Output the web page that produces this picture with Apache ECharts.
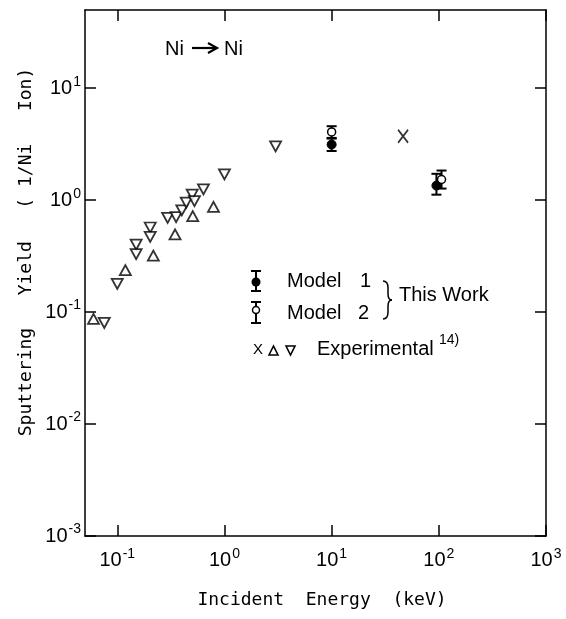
<!DOCTYPE html>
<html>
<head>
<meta charset="utf-8">
<script src="https://cdn.jsdelivr.net/npm/echarts@6/dist/echarts.min.js"></script>
<style>html,body{margin:0;padding:0;background:#fff}#c{width:566px;height:619px}</style>
</head>
<body>
<div id="c"></div>
<script>
// ---- data ----
const xTicks = [0.1, 1, 10, 100, 1000];
const yTicks = [0.001, 0.01, 0.1, 1, 10];
// Experimental (14): up triangles
const upTriX = [0.060, 0.119, 0.217, 0.346, 0.506, 0.79];
const upTriY = [0.087, 0.237, 0.32, 0.494, 0.72, 0.87];
// Experimental (14): down triangles
const downTriX = [0.0756, 0.100, 0.150, 0.150, 0.203, 0.203, 0.295, 0.354, 0.40, 0.44, 0.50, 0.525, 0.637, 1.0, 3.0];
const downTriY = [0.080, 0.179, 0.40, 0.33, 0.57, 0.47, 0.695, 0.705, 0.81, 0.95, 1.12, 0.98, 1.25, 1.70, 3.03];
// Experimental (14): cross
const crossX = [46.4];
const crossY = [3.73];
// Model 1 (filled circle) with error bars
const model1X = [10, 95];
const model1Y = [3.14, 1.35];
const model1Lo = [2.75, 1.12];
const model1Hi = [3.55, 1.72];
// Model 2 (open circle) with error bars
const model2X = [10, 106];
const model2Y = [4.07, 1.53];
const model2Lo = [3.6, 1.27];
const model2Hi = [4.58, 1.84];

const zip = (a, b) => a.map((v, i) => [v, b[i]]);
const zip4 = (a, b, c, d) => a.map((v, i) => [v, b[i], c[i], d[i]]);

function errRender(filled) {
  return function (params, api) {
    const p = api.coord([api.value(0), api.value(1)]);
    const lo = api.coord([api.value(0), api.value(2)]);
    const hi = api.coord([api.value(0), api.value(3)]);
    const cap = 5;
    const st = { stroke: '#000', lineWidth: 2 };
    return {
      type: 'group',
      children: [
        { type: 'line', shape: { x1: p[0], y1: hi[1], x2: p[0], y2: lo[1] }, style: st },
        { type: 'line', shape: { x1: p[0] - cap, y1: hi[1], x2: p[0] + cap, y2: hi[1] }, style: st },
        { type: 'line', shape: { x1: p[0] - cap, y1: lo[1], x2: p[0] + cap, y2: lo[1] }, style: st },
        { type: 'circle', shape: { cx: p[0], cy: p[1], r: filled ? 4.5 : 4 },
          style: filled ? { fill: '#000', stroke: '#000', lineWidth: 1 } : { fill: '#fff', stroke: '#000', lineWidth: 1.5 } }
      ]
    };
  };
}

const labelFmt = v => {
  const e = Math.round(Math.log10(v));
  return '{b|10}{e|' + e + '}';
};
const rich = {
  b: { fontSize: 20, fontFamily: 'Liberation Sans', color: '#000', lineHeight: 24 },
  e: { fontSize: 14, fontFamily: 'Liberation Sans', color: '#000', padding: [0, 0, 13, 1] }
};

const axisCommon = {
  type: 'log', logBase: 10,
  axisLine: { show: true, lineStyle: { color: '#000', width: 1.5 } },
  splitLine: { show: false },
  minorTick: { show: false }
};

const bline = (a) => ({ type: 'line', shape: { x1: a[0], y1: a[1], x2: a[2], y2: a[3] }, style: { stroke: '#000', lineWidth: 1.5 } });
const bcurve = (a) => ({ type: 'bezierCurve', shape: { x1: a[0], y1: a[1], cpx1: a[2], cpy1: a[3], x2: a[4], y2: a[5] }, style: { stroke: '#000', lineWidth: 1.5, fill: null } });

const chart = echarts.init(document.getElementById('c'));
const option = {
  backgroundColor: '#fff',
  animation: false,
  grid: { left: 85, right: 20, top: 10, bottom: 83 },
  xAxis: [
    Object.assign({}, axisCommon, {
      min: 0.05, max: 1000, position: 'bottom',
      axisTick: { show: true, inside: true, length: 11, lineStyle: { color: '#000', width: 1.5 }, customValues: xTicks },
      axisLabel: { show: true, customValues: xTicks, formatter: labelFmt, rich: rich, margin: 11 }
    }),
    Object.assign({}, axisCommon, {
      min: 0.05, max: 1000, position: 'top',
      axisTick: { show: true, inside: true, length: 11, lineStyle: { color: '#000', width: 1.5 }, customValues: xTicks },
      axisLabel: { show: false }
    })
  ],
  yAxis: [
    Object.assign({}, axisCommon, {
      min: 0.001, max: 50, position: 'left',
      axisTick: { show: true, inside: true, length: 11, lineStyle: { color: '#000', width: 1.5 }, customValues: yTicks },
      axisLabel: { show: true, customValues: yTicks, formatter: labelFmt, rich: rich, margin: 4 }
    }),
    Object.assign({}, axisCommon, {
      min: 0.001, max: 50, position: 'right',
      axisTick: { show: true, inside: true, length: 11, lineStyle: { color: '#000', width: 1.5 }, customValues: yTicks },
      axisLabel: { show: false }
    })
  ],
  series: [
    { name: 'Experimental up', type: 'scatter', data: zip(upTriX, upTriY), symbol: 'triangle', symbolSize: [11, 10],
      itemStyle: { color: '#fff', borderColor: '#000', borderWidth: 1.8 } },
    { name: 'Experimental down', type: 'scatter', data: zip(downTriX, downTriY), symbol: 'triangle', symbolRotate: 180, symbolSize: [11, 10],
      itemStyle: { color: '#fff', borderColor: '#000', borderWidth: 1.8 } },
    { name: 'Experimental X', type: 'scatter', data: zip(crossX, crossY), symbol: 'path://M0,0L10,14M10,0L0,14', symbolSize: [10, 13],
      itemStyle: { color: 'none', borderColor: '#000', borderWidth: 1.8 } },
    { name: 'Model 2', type: 'custom', renderItem: errRender(false), data: zip4(model2X, model2Y, model2Lo, model2Hi), z: 3 },
    { name: 'Model 1', type: 'custom', renderItem: errRender(true), data: zip4(model1X, model1Y, model1Lo, model1Hi), z: 4 }
  ],
  graphic: [
    { type: 'text', x: 165, y: 49, style: { text: 'Ni', font: '20px "Liberation Sans"', fill: '#000', verticalAlign: 'middle' } },
    { type: 'line', shape: { x1: 192, y1: 48, x2: 216, y2: 48 }, style: { stroke: '#000', lineWidth: 2.2 } },
    { type: 'polyline', shape: { points: [[208, 43], [217, 48], [208, 53]] }, style: { stroke: '#000', lineWidth: 2.2, fill: null } },
    { type: 'text', x: 224, y: 49, style: { text: 'Ni', font: '20px "Liberation Sans"', fill: '#000', verticalAlign: 'middle' } },
    // legend symbols
    { type: 'line', shape: { x1: 256, y1: 271, x2: 256, y2: 291 }, style: { stroke: '#000', lineWidth: 2 } },
    { type: 'line', shape: { x1: 251, y1: 271, x2: 261, y2: 271 }, style: { stroke: '#000', lineWidth: 2 } },
    { type: 'line', shape: { x1: 251, y1: 291, x2: 261, y2: 291 }, style: { stroke: '#000', lineWidth: 2 } },
    { type: 'circle', shape: { cx: 256, cy: 282, r: 4.5 }, style: { fill: '#000' } },
    { type: 'line', shape: { x1: 256, y1: 302, x2: 256, y2: 323 }, style: { stroke: '#000', lineWidth: 2 } },
    { type: 'line', shape: { x1: 251, y1: 302, x2: 261, y2: 302 }, style: { stroke: '#000', lineWidth: 2 } },
    { type: 'line', shape: { x1: 251, y1: 323, x2: 261, y2: 323 }, style: { stroke: '#000', lineWidth: 2 } },
    { type: 'circle', shape: { cx: 256, cy: 310, r: 3.5 }, style: { fill: '#fff', stroke: '#000', lineWidth: 1.5 } },
    // legend texts
    { type: 'text', x: 287, y: 281, style: { text: 'Model', font: '20px "Liberation Sans"', fill: '#000', verticalAlign: 'middle' } },
    { type: 'text', x: 360, y: 281, style: { text: '1', font: '20px "Liberation Sans"', fill: '#000', verticalAlign: 'middle' } },
    { type: 'text', x: 287, y: 313, style: { text: 'Model', font: '20px "Liberation Sans"', fill: '#000', verticalAlign: 'middle' } },
    { type: 'text', x: 358, y: 313, style: { text: '2', font: '20px "Liberation Sans"', fill: '#000', verticalAlign: 'middle' } },
    // brace
    bcurve([383, 281, 388, 281, 388, 288]),
    bline([388, 288, 388, 294]),
    bcurve([388, 294, 388, 300, 392, 300]),
    bcurve([392, 300, 388, 300, 388, 306]),
    bline([388, 306, 388, 312]),
    bcurve([388, 312, 388, 319, 383, 319]),
    { type: 'text', x: 399, y: 295, style: { text: 'This Work', font: '20px "Liberation Sans"', fill: '#000', verticalAlign: 'middle' } },
    { type: 'text', x: 258, y: 350, style: { text: 'X', font: '15px "Liberation Sans"', fill: '#000', align: 'center', verticalAlign: 'middle' } },
    { type: 'polygon', shape: { points: [[269, 355], [273.5, 346], [278, 355]] }, style: { fill: null, stroke: '#000', lineWidth: 1.6 } },
    { type: 'polygon', shape: { points: [[286, 346], [290.5, 355], [295, 346]] }, style: { fill: null, stroke: '#000', lineWidth: 1.6 } },
    { type: 'text', x: 317, y: 349, style: { text: 'Experimental', font: '20px "Liberation Sans"', fill: '#000', verticalAlign: 'middle' } },
    { type: 'text', x: 439, y: 340, style: { text: '14)', font: '14px "Liberation Sans"', fill: '#000', verticalAlign: 'middle' } },
    // axis titles
    { type: 'text', x: 322, y: 600, style: { text: 'Incident  Energy  (keV)', font: '18px "DejaVu Sans Mono"', fill: '#000', align: 'center', verticalAlign: 'middle' } },
    { type: 'text', x: 26, y: 252, rotation: Math.PI / 2, style: { text: 'Sputtering   Yield   ( 1/Ni   Ion)', font: '18px "DejaVu Sans Mono"', fill: '#000', align: 'center', verticalAlign: 'middle' } }
  ]
};
chart.setOption(option);
</script>
</body>
</html>
